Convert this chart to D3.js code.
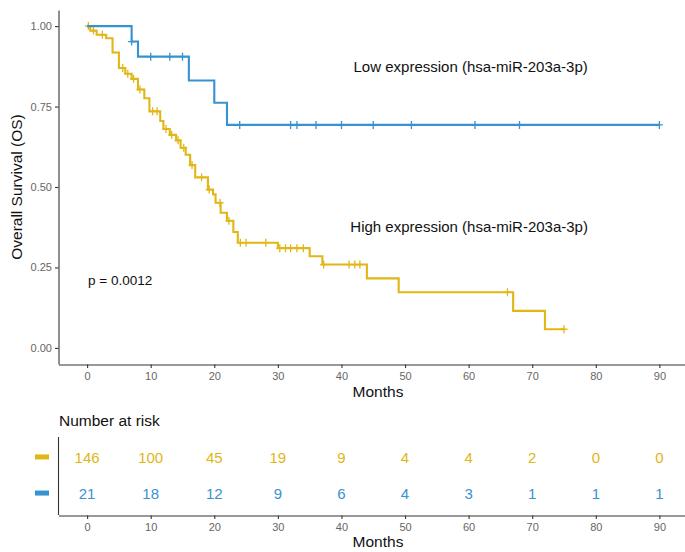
<!DOCTYPE html>
<html>
<head>
<meta charset="utf-8">
<script src="https://cdn.jsdelivr.net/npm/d3@7"></script>
<style>
body{margin:0;background:#fff}
text{font-family:"Liberation Sans",Arial,sans-serif}
.axis path,.axis line{stroke:#333;stroke-width:1.1}
.axis text{fill:#666;font-size:11px}
</style>
</head>
<body>
<script>
// strata + palette
const strata = ['High expression (hsa-miR-203a-3p)','Low expression (hsa-miR-203a-3p)']
const colors = ['#E1B616','#3792D0']

// KM steps (months, survival after the step)
const highTime = [0,0.5,1.5,3,4,5,6,7,8,9,9.8,11.5,12,13,14,14.7,15.5,16.2,17,19,19.8,20.2,21,22,23,23.7,30,35,37,44,49,67,72]
const highSurv = [1,0.986,0.973,0.962,0.918,0.870,0.852,0.836,0.803,0.776,0.735,0.705,0.680,0.662,0.645,0.622,0.600,0.568,0.530,0.492,0.477,0.451,0.420,0.395,0.360,0.327,0.310,0.285,0.259,0.216,0.173,0.115,0.058]
const highCens = [0.2,1,2.4,5.6,6.4,7.3,8.3,10.3,11,12.4,13.3,14.3,15.2,16.5,18,19.2,20.9,22.3,24.1,25,28.1,30.3,31.2,32,33,34,37.2,41.2,42.1,42.9,66.1,75]
const highEnd = 75

const lowTime = [0,7,8,16,20,22]
const lowSurv = [1,0.952,0.905,0.831,0.762,0.693]
const lowCens = [7,10,13,15,24,32,33,36,40,45,51,61,68,90]
const lowEnd = 90

// number at risk table
const riskTimes = [0,10,20,30,40,50,60,70,80,90]
const highRisk = [146,100,45,19,9,4,4,2,0,0]
const lowRisk = [21,18,12,9,6,4,3,1,1,1]

const yTicks = [0,0.25,0.5,0.75,1]
const pLabel = 'p = 0.0012'

const W = 685, H = 552
const svg = d3.select('body').append('svg').attr('width',W).attr('height',H)

const x = d3.scaleLinear().domain([-4.5,94.5]).range([58.5,688])
const y = d3.scaleLinear().domain([-0.05,1.05]).range([364,10])

// axes of the survival panel
svg.append('g').attr('class','axis')
  .attr('transform','translate(58.5,0)')
  .call(d3.axisLeft(y).tickValues(yTicks).tickFormat(d3.format('.2f')).tickSize(3.5).tickSizeOuter(0).tickPadding(3))
svg.append('g').attr('class','axis')
  .attr('transform','translate(0,364.5)')
  .call(d3.axisBottom(x).tickValues(riskTimes).tickSize(3.5).tickSizeOuter(0).tickPadding(4))

svg.append('text')
  .attr('transform','translate(22,187) rotate(-90)')
  .attr('text-anchor','middle').attr('font-size',15.5).attr('fill','#111')
  .text('Overall Survival (OS)')
svg.append('text')
  .attr('x',378).attr('y',397).attr('text-anchor','middle')
  .attr('font-size',15.5).attr('fill','#111').text('Months')

// curves
const groups = [
  {time:highTime,surv:highSurv,cens:highCens,end:highEnd},
  {time:lowTime,surv:lowSurv,cens:lowCens,end:lowEnd}
]
const line = d3.line().x(d => x(d[0])).y(d => y(d[1])).curve(d3.curveStepAfter)

groups.forEach((g,i) => {
  const pts = g.time.map((t,k) => [t,g.surv[k]])
  pts.push([g.end,g.surv[g.surv.length-1]])
  svg.append('path')
    .attr('d',line(pts))
    .attr('fill','none').attr('stroke',colors[i]).attr('stroke-width',2.1)
  // censor marks sit on the step level at that time
  svg.append('g').selectAll('path')
    .data(g.cens)
    .enter().append('path')
    .attr('transform',c => {
      const k = d3.bisectRight(g.time,c)-1
      return `translate(${x(c)},${y(g.surv[k])})`
    })
    .attr('d','M-3.5,0h7M0,-4v8')
    .attr('stroke',colors[i]).attr('stroke-width',1.3).attr('fill','none')
})

// labels inside the panel
svg.append('text').attr('x',x(41.9)).attr('y',y(0.857))
  .attr('font-size',15).attr('fill','#111').text(strata[1])
svg.append('text').attr('x',x(41.4)).attr('y',y(0.359))
  .attr('font-size',15).attr('fill','#111').text(strata[0])
svg.append('text').attr('x',x(0.15)).attr('y',y(0.197))
  .attr('font-size',13.5).attr('fill','#111').text(pLabel)

// risk table
svg.append('text').attr('x',59).attr('y',426)
  .attr('font-size',15.5).attr('fill','#111').text('Number at risk')

const yr = d3.scalePoint().domain(strata).range([437,515]).padding(0.58)

svg.append('line').attr('x1',58.5).attr('x2',58.5).attr('y1',437).attr('y2',515)
  .attr('stroke','#333').attr('stroke-width',1.1)
svg.append('g').attr('class','axis')
  .attr('transform','translate(0,515.5)')
  .call(d3.axisBottom(x).tickValues(riskTimes).tickSize(3.5).tickSizeOuter(0).tickPadding(4))
svg.append('text')
  .attr('x',378).attr('y',546.5).attr('text-anchor','middle')
  .attr('font-size',15.5).attr('fill','#111').text('Months')

const riskRows = [highRisk,lowRisk]
riskRows.forEach((row,i) => {
  const yy = yr(strata[i])
  svg.append('rect').attr('x',35).attr('y',yy-3.5).attr('width',14).attr('height',5)
    .attr('fill',colors[i])
  svg.append('g').selectAll('text')
    .data(row)
    .enter().append('text')
    .attr('x',(d,k) => x(riskTimes[k]))
    .attr('y',yy).attr('dy','0.36em')
    .attr('text-anchor','middle').attr('font-size',15)
    .attr('fill',colors[i])
    .text(d => d)
})
</script>
</body>
</html>
